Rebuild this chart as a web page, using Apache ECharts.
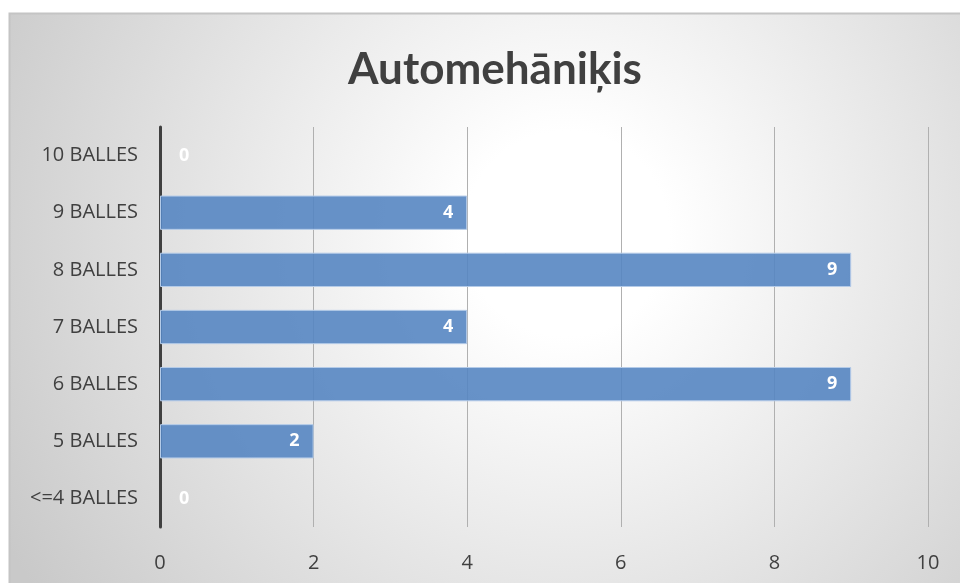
<!DOCTYPE html>
<html>
<head>
<meta charset="utf-8">
<script src="https://cdn.jsdelivr.net/npm/echarts@6/dist/echarts.min.js"></script>
<style>
  html, body { margin: 0; padding: 0; background: #ffffff; }
  #main { width: 960px; height: 583px; }
</style>
</head>
<body>
<div id="main"></div>
<script>
var categories = ['<=4 BALLES', '5 BALLES', '6 BALLES', '7 BALLES', '8 BALLES', '9 BALLES', '10 BALLES'];
var counts = [0, 2, 9, 4, 9, 4, 0];
var xTicks = [0, 2, 4, 6, 8, 10];

var myChart = echarts.init(document.getElementById('main'));

// zero bars: no border, label just right of the axis like Excel
var barData = counts.map(function (v) {
    if (v === 0) {
        return {
            value: v,
            itemStyle: { borderWidth: 0 },
            label: { position: 'insideLeft', offset: [5, 0] }
        };
    }
    return v;
});

myChart.setOption({
    animation: false,
    graphic: [
        {
            type: 'rect',
            z: -10,
            shape: { x: 9.5, y: 13.5, width: 960, height: 580 },
            style: {
                fill: new echarts.graphic.RadialGradient(0.58, 0.38, 1.1, [
                    { offset: 0, color: '#ffffff' },
                    { offset: 0.16, color: '#ffffff' },
                    { offset: 1, color: '#c9c9c9' }
                ]),
                stroke: '#c4c4c4',
                lineWidth: 2
            }
        }
    ],
    title: {
        text: 'Automehāniķis',
        left: 490,
        top: 43,
        textAlign: 'center',
        textStyle: {
            fontFamily: 'Lato',
            fontWeight: 'bold',
            fontSize: 44,
            color: '#404040'
        }
    },
    grid: {
        left: 160,
        right: 32,
        top: 127,
        bottom: 56
    },
    xAxis: {
        type: 'value',
        min: xTicks[0],
        max: xTicks[xTicks.length - 1],
        interval: 2,
        axisLine: { show: false },
        axisTick: { show: false },
        axisLabel: {
            margin: 26,
            fontFamily: 'Open Sans',
            fontSize: 20,
            color: '#404040'
        },
        splitLine: { lineStyle: { color: '#b0b0b0', width: 1 } }
    },
    yAxis: {
        type: 'category',
        data: categories,
        axisLine: { lineStyle: { color: '#404040', width: 3 } },
        axisTick: { show: false },
        axisLabel: {
            margin: 22,
            fontFamily: 'Open Sans',
            fontSize: 20,
            color: '#404040'
        }
    },
    series: [
        {
            type: 'bar',
            data: barData,
            barWidth: '60%',
            itemStyle: {
                color: 'rgba(86,134,194,0.9)',
                borderColor: '#b4cbe8',
                borderWidth: 1
            },
            label: {
                show: true,
                position: 'insideRight',
                distance: 14,
                color: '#ffffff',
                fontFamily: 'Open Sans',
                fontWeight: 'bold',
                fontSize: 18
            }
        }
    ]
});
</script>
</body>
</html>
